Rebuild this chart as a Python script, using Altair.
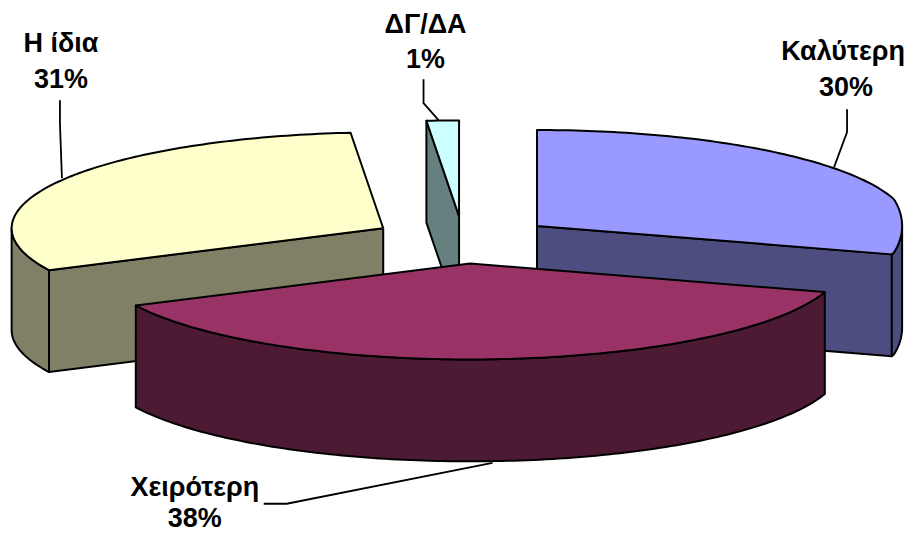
import math
import altair as alt
import pandas as pd

# Slice values (percent), clockwise from 12 o'clock
names = ["Καλύτερη", "Χειρότερη", "Η ίδια", "ΔΓ/ΔΑ"]
shares = [29.8, 38.0, 30.8, 1.4]
top_colors = ["#9999FF", "#993366", "#FFFFCC", "#CCFFFF"]
wall_colors = ["#4D4D80", "#4D1A33", "#808066", "#668080"]

# Label text and anchor (picture coordinates)
label_lines = ["ΔΓ/ΔΑ", "1%", "Καλύτερη", "30%", "Η ίδια", "31%", "Χειρότερη", "38%"]
label_x = [426, 426, 844, 847, 61, 61, 195, 195]
label_y = [33, 68, 60, 96, 52, 88, 496, 527]

# Leader lines
leaders = [
    [(848, 109), (848, 132), (835, 167)],
    [(60, 100), (60, 123), (62, 178)],
    [(424, 79), (424, 103), (439, 120)],
    [(264, 504), (287, 504), (493, 463)],
]

# Pie projection
CX, CY, RX, RY, EXPLODE, DEPTH = 463.6, 239.9, 372.0, 96.0, 0.247, 102.0
W, H = 897, 520
# The page margin leaves 897 px; the outermost few pixels of the pie are eased in
x_scale = alt.Scale(domain=[8, 895, 913], range=[0, 887, W], nice=False, zero=False)
y_scale = alt.Scale(domain=[8, 528], range=[0, H], nice=False, zero=False)


def pt(apex, deg):
    a = math.radians(deg)
    return (apex[0] + RX * math.sin(a), apex[1] - RY * math.cos(a))


def arc(apex, a0, a1):
    n = max(2, int(abs(a1 - a0)) + 1)
    return [pt(apex, a0 + (a1 - a0) * i / n) for i in range(n + 1)]


def drop(points):
    return [(x, y + DEPTH) for x, y in points]


def poly(points, fill, sw=2.0):
    pts = list(points) + [points[0]]
    df = pd.DataFrame({"x": [p[0] for p in pts], "y": [p[1] for p in pts], "o": range(len(pts))})
    return alt.Chart(df).mark_line(
        fill=fill, stroke="#000000", strokeWidth=sw, strokeJoin="round", clip=False, interpolate="linear"
    ).encode(
        x=alt.X("x:Q", scale=x_scale, axis=None),
        y=alt.Y("y:Q", scale=y_scale, axis=None),
        order="o:Q",
    )


# Geometry per slice
spans = {}
start = 0.0
total = sum(shares)
for i, s in enumerate(shares):
    end = start + 360 * s / total
    mid = math.radians((start + end) / 2)
    apex = (CX + EXPLODE * RX * math.sin(mid), CY - EXPLODE * RY * math.cos(mid))
    spans[i] = (start, end, apex)
    start = end


def slice_layers(i):
    a0, a1, apex = spans[i]
    layers = []
    rim = arc(apex, a0, a1)
    # radial walls that face the viewer
    visible_edges = []
    if 0 < a1 < 180:
        visible_edges.append(a1)
    if 180 < a0 < 360:
        visible_edges.append(a0)
    for e in visible_edges:
        wall = [apex, pt(apex, e)]
        layers.append(poly(wall + drop(wall)[::-1], wall_colors[i]))
    # outer curved wall, only the part facing the viewer (90..270 degrees)
    lo, hi = max(a0, 90), min(a1, 270)
    if lo < hi:
        front = arc(apex, lo, hi)
        layers.append(poly(front + drop(front)[::-1], wall_colors[i]))
    layers.append(poly([apex] + rim, top_colors[i]))
    return layers


layers = []
for i in (3, 2, 0, 1):  # back to front
    layers.extend(slice_layers(i))

for line in leaders:
    df = pd.DataFrame({"x": [p[0] for p in line], "y": [p[1] for p in line], "o": range(len(line))})
    layers.append(
        alt.Chart(df).mark_line(color="#000000", strokeWidth=1.8).encode(
            x=alt.X("x:Q", scale=x_scale, axis=None),
            y=alt.Y("y:Q", scale=y_scale, axis=None),
            order="o:Q",
        )
    )

labels = pd.DataFrame({"t": label_lines, "x": label_x, "y": label_y})
layers.append(
    alt.Chart(labels).mark_text(
        font="Liberation Sans", fontSize=27, fontWeight="bold", color="#000000",
        align="center", baseline="alphabetic",
    ).encode(
        x=alt.X("x:Q", scale=x_scale, axis=None),
        y=alt.Y("y:Q", scale=y_scale, axis=None),
        text="t:N",
    )
)

chart = alt.layer(*layers).properties(
    width=W, height=H, padding=0, background="#FFFFFF"
).configure_view(stroke=None)

chart.save("out.html", embed_options={"renderer": "svg", "actions": False})
